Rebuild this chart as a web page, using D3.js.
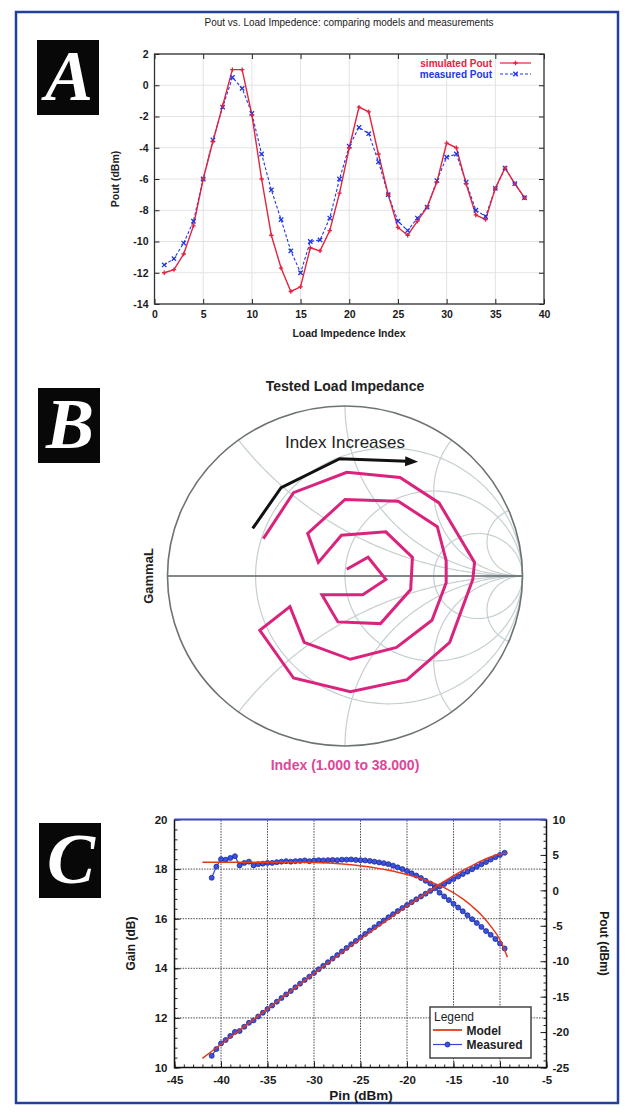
<!DOCTYPE html>
<html>
<head>
<meta charset="utf-8">
<title>Load impedance: models and measurements</title>
<script src="https://cdn.jsdelivr.net/npm/d3@7"></script>
<style>
    body { margin: 0; background: #fff; }
    svg { display: block; }
</style>
</head>
<body>
<div id="main"></div>
<script>
"use strict";

const FONT = "'Liberation Sans', Arial, Helvetica, sans-serif";
const SERIF = "'Liberation Serif', 'Times New Roman', serif";

// ---- panel A: Pout vs load impedance index
const loadIndex = [1, 2, 3, 4, 5, 6, 7, 8, 9, 10, 11, 12, 13, 14, 15, 16, 17, 18, 19,
    20, 21, 22, 23, 24, 25, 26, 27, 28, 29, 30, 31, 32, 33, 34, 35, 36, 37, 38];
const simulatedPout = [-12.0, -11.8, -10.8, -9.0, -6.0, -3.6, -1.3, 1.0, 1.0, -1.9,
    -6.0, -9.6, -11.7, -13.2, -12.9, -10.4, -10.6, -9.3, -6.9, -4.0,
    -1.4, -1.7, -4.4, -7.0, -9.1, -9.6, -8.7, -7.8, -6.2, -3.7,
    -4.0, -6.3, -8.3, -8.6, -6.6, -5.3, -6.3, -7.2];
const measuredPout = [-11.5, -11.1, -10.1, -8.7, -6.0, -3.5, -1.4, 0.5, -0.2, -1.8,
    -4.4, -6.7, -8.6, -10.6, -12.0, -10.0, -9.9, -8.5, -6.0, -3.9,
    -2.7, -3.1, -4.9, -7.0, -8.7, -9.3, -8.5, -7.8, -6.1, -4.6,
    -4.4, -6.2, -8.0, -8.4, -6.6, -5.3, -6.3, -7.2];
const indexTicks = [0, 5, 10, 15, 20, 25, 30, 35, 40];
const poutTicksA = [-14, -12, -10, -8, -6, -4, -2, 0, 2];

// ---- panel B: tested load impedances on the Smith chart (reflection coefficient)
const gammaRe = [-0.46, -0.29, 0.01, 0.31, 0.53, 0.73, 0.72, 0.59, 0.35, 0.03,
    -0.29, -0.48, -0.31, -0.23, 0.03, 0.29, 0.49, 0.57, 0.57, 0.52,
    0.30, 0.00, -0.21, -0.15, -0.02, 0.23, 0.38, 0.37, 0.20, -0.04,
    -0.13, 0.10, 0.23, 0.13, 0.01];
const gammaIm = [0.22, 0.49, 0.61, 0.58, 0.43, 0.08, -0.02, -0.39, -0.61, -0.68,
    -0.60, -0.32, -0.18, -0.39, -0.49, -0.42, -0.26, -0.04, 0.09, 0.29,
    0.44, 0.45, 0.25, 0.08, 0.24, 0.26, 0.11, -0.08, -0.28, -0.27,
    -0.11, -0.11, -0.02, 0.11, 0.04];
const resistanceCircles = [0.33, 1, 3];
const reactanceArcs = [0.5, 1, 2, 5];
const arrowRe = [-0.52, -0.36, -0.03, 0.35];
const arrowIm = [0.28, 0.52, 0.69, 0.675];

// ---- panel C: gain and Pout vs Pin
const pinModel = [-42, -40, -38, -36, -34, -32, -30, -28, -26, -24,
    -22, -20, -18, -16, -14, -13, -12, -11, -10, -9.2];
const gainModel = [18.28, 18.28, 18.28, 18.28, 18.28, 18.28, 18.27, 18.24, 18.18, 18.08,
    17.95, 17.78, 17.55, 17.25, 16.8, 16.5, 16.15, 15.7, 15.15, 14.45];
const poutModel = [-23.72, -21.72, -19.72, -17.72, -15.72, -13.72, -11.73, -9.76, -7.82, -5.92,
    -4.05, -2.22, -0.45, 1.25, 2.8, 3.5, 4.15, 4.7, 5.15, 5.25];
const pinMeasured = [-41, -40.5, -40, -39.5, -39, -38.5, -38, -37.5, -37, -36.5,
    -36, -35.5, -35, -34.5, -34, -33.5, -33, -32.5, -32, -31.5,
    -31, -30.5, -30, -29.5, -29, -28.5, -28, -27.5, -27, -26.5,
    -26, -25.5, -25, -24.5, -24, -23.5, -23, -22.5, -22, -21.5,
    -21, -20.5, -20, -19.5, -19, -18.5, -18, -17.5, -17, -16.5,
    -16, -15.5, -15, -14.5, -14, -13.5, -13, -12.5, -12, -11.5,
    -11, -10.5, -10, -9.5];
const gainMeasured = [17.65, 18.10, 18.40, 18.38, 18.45, 18.52, 18.15, 18.25, 18.30, 18.15,
    18.20, 18.22, 18.25, 18.25, 18.28, 18.30, 18.32, 18.30, 18.32, 18.33,
    18.35, 18.32, 18.35, 18.36, 18.35, 18.36, 18.37, 18.36, 18.38, 18.38,
    18.39, 18.37, 18.36, 18.35, 18.33, 18.30, 18.27, 18.24, 18.20, 18.14,
    18.07, 18.00, 17.92, 17.83, 17.74, 17.64, 17.53, 17.42, 17.28, 17.05,
    16.90, 16.75, 16.60, 16.45, 16.30, 16.14, 15.98, 15.83, 15.67, 15.50,
    15.35, 15.18, 15.00, 14.80];
const poutMeasured = [-23.35, -22.40, -21.60, -21.12, -20.55, -19.98, -19.85, -19.25, -18.70, -18.35,
    -17.80, -17.28, -16.75, -16.25, -15.72, -15.20, -14.68, -14.20, -13.68, -13.17,
    -12.65, -12.18, -11.65, -11.14, -10.65, -10.14, -9.63, -9.14, -8.62, -8.12,
    -7.61, -7.13, -6.64, -6.15, -5.67, -5.20, -4.73, -4.26, -3.80, -3.36,
    -2.93, -2.50, -2.08, -1.67, -1.26, -0.86, -0.47, -0.08, 0.28, 0.55,
    0.90, 1.25, 1.60, 1.95, 2.30, 2.64, 2.98, 3.33, 3.67, 4.00,
    4.35, 4.68, 5.00, 5.30];
const pinTicks = [-45, -40, -35, -30, -25, -20, -15, -10, -5];
const gainTicks = [10, 12, 14, 16, 18, 20];
const poutTicksC = [-25, -20, -15, -10, -5, 0, 5, 10];

const plain = d => String(d); // keep ascii hyphen minus for negative ticks

function styleAxis(sel, size, tickColor) {
    sel.attr("font-family", FONT).attr("font-size", size).attr("font-weight", "bold");
    sel.select(".domain").remove();
    sel.selectAll(".tick line").attr("stroke", tickColor || "#222");
    sel.selectAll(".tick text").attr("fill", "#1a1a1a");
}

function panelLabel(svg, letter, left, top) {
    svg.append("rect")
        .attr("x", left).attr("y", top).attr("width", 62).attr("height", 75)
        .attr("fill", "#080808");
    svg.append("text")
        .attr("x", left + 32).attr("y", top + 60)
        .attr("text-anchor", "middle")
        .attr("font-family", SERIF).attr("font-style", "italic").attr("font-weight", "bold")
        .attr("font-size", 72).attr("fill", "#fff")
        .text(letter);
}

function drawPanelA(svg) {
    const x = d3.scaleLinear().domain([0, 40]).range([154.5, 544]);
    const y = d3.scaleLinear().domain([-14, 2]).range([304, 54]);
    const g = svg.append("g");
    const red = "#e3233f", blue = "#2136e6";

    // grid
    g.append("g").selectAll("line").data(indexTicks).join("line")
        .attr("x1", d => x(d)).attr("x2", d => x(d)).attr("y1", y(-14)).attr("y2", y(2))
        .attr("stroke", "#e3e3e3");
    g.append("g").selectAll("line").data(poutTicksA).join("line")
        .attr("x1", x(0)).attr("x2", x(40)).attr("y1", d => y(d)).attr("y2", d => y(d))
        .attr("stroke", "#e3e3e3");

    // gnuplot style: inward ticks mirrored on all sides
    g.append("g").attr("transform", `translate(0,${y(-14)})`)
        .call(d3.axisBottom(x).tickValues(indexTicks).tickFormat(plain).tickSize(-5).tickSizeOuter(0).tickPadding(7))
        .call(styleAxis, 10.5);
    g.append("g").attr("transform", `translate(0,${y(2)})`)
        .call(d3.axisTop(x).tickValues(indexTicks).tickFormat("").tickSize(-5).tickSizeOuter(0))
        .call(styleAxis, 10.5);
    g.append("g").attr("transform", `translate(${x(0)},0)`)
        .call(d3.axisLeft(y).tickValues(poutTicksA).tickFormat(plain).tickSize(-5).tickSizeOuter(0).tickPadding(6))
        .call(styleAxis, 10.5);
    g.append("g").attr("transform", `translate(${x(40)},0)`)
        .call(d3.axisRight(y).tickValues(poutTicksA).tickFormat("").tickSize(-5).tickSizeOuter(0))
        .call(styleAxis, 10.5);

    g.append("rect")
        .attr("x", x(0)).attr("y", y(2)).attr("width", x(40) - x(0)).attr("height", y(-14) - y(2))
        .attr("fill", "none").attr("stroke", "#333").attr("stroke-width", 1.3);

    const line = d3.line().x(d => x(d[0])).y(d => y(d[1]));
    const sim = loadIndex.map((d, i) => [d, simulatedPout[i]]);
    const meas = loadIndex.map((d, i) => [d, measuredPout[i]]);

    g.append("path").attr("d", line(meas))
        .attr("fill", "none").attr("stroke", blue).attr("stroke-width", 1.1).attr("stroke-dasharray", "3,2");
    g.append("path").attr("d", line(sim))
        .attr("fill", "none").attr("stroke", red).attr("stroke-width", 1.4);

    g.append("g").selectAll("path").data(meas).join("path")
        .attr("d", d => `M${x(d[0]) - 2.2},${y(d[1]) - 2.2}l4.4,4.4M${x(d[0]) - 2.2},${y(d[1]) + 2.2}l4.4,-4.4`)
        .attr("stroke", blue).attr("stroke-width", 1.3);
    g.append("g").selectAll("path").data(sim).join("path")
        .attr("d", d => `M${x(d[0]) - 2.2},${y(d[1])}h4.4M${x(d[0])},${y(d[1]) - 2.2}v4.4`)
        .attr("stroke", red).attr("stroke-width", 1.3);

    // titles
    g.append("text").attr("x", 349).attr("y", 26).attr("text-anchor", "middle")
        .attr("font-family", FONT).attr("font-size", 10).attr("fill", "#222")
        .text("Pout vs. Load Impedence: comparing models and measurements");
    g.append("text").attr("x", 349).attr("y", 337).attr("text-anchor", "middle")
        .attr("font-family", FONT).attr("font-size", 10.5).attr("font-weight", "bold").attr("fill", "#222")
        .text("Load Impedence Index");
    g.append("text").attr("transform", "translate(119,179) rotate(-90)").attr("text-anchor", "middle")
        .attr("font-family", FONT).attr("font-size", 10.5).attr("font-weight", "bold").attr("fill", "#222")
        .text("Pout (dBm)");

    // legend
    const legend = [
        { label: "simulated Pout", color: red, dash: null, y: 63 },
        { label: "measured Pout", color: blue, dash: "3,2", y: 74 }
    ];
    const lg = g.append("g").selectAll("g").data(legend).join("g");
    lg.append("text").attr("x", 492).attr("y", d => d.y + 3.7).attr("text-anchor", "end")
        .attr("font-family", FONT).attr("font-size", 10).attr("font-weight", "bold")
        .attr("fill", d => d.color).text(d => d.label);
    lg.append("line").attr("x1", 500).attr("x2", 531).attr("y1", d => d.y).attr("y2", d => d.y)
        .attr("stroke", d => d.color).attr("stroke-width", 1.2).attr("stroke-dasharray", d => d.dash);
    lg.append("path")
        .attr("d", (d, i) => i === 0
            ? `M513.3,${d.y}h4.4M515.5,${d.y - 2.2}v4.4`
            : `M513.3,${d.y - 2.2}l4.4,4.4M513.3,${d.y + 2.2}l4.4,-4.4`)
        .attr("stroke", d => d.color).attr("stroke-width", 1.3);
}

function gammaOf(r, xv) {
    const den = (r + 1) * (r + 1) + xv * xv;
    return [(r * r + xv * xv - 1) / den, 2 * xv / den];
}

function drawPanelB(svg) {
    const sx = d3.scaleLinear().domain([-1, 1]).range([167.5, 522.5]);
    const sy = d3.scaleLinear().domain([-1, 1]).range([746, 406]);
    const line = d3.line().x(d => sx(d[0])).y(d => sy(d[1]));
    const g = svg.append("g");
    const gridColor = "#c5cfd1";

    // constant resistance circles
    const su = d3.range(-Math.PI / 2 + 0.002, Math.PI / 2, 0.01);
    g.append("g").selectAll("path").data(resistanceCircles).join("path")
        .attr("d", r => line([[1, 0]].concat(su.map(u => gammaOf(r, Math.tan(u))), [[1, 0]])))
        .attr("fill", "none").attr("stroke", gridColor).attr("stroke-width", 1.2);

    // constant reactance arcs, both signs
    const ru = d3.range(0, Math.PI / 2, 0.01);
    const arcs = reactanceArcs.concat(reactanceArcs.map(v => -v));
    g.append("g").selectAll("path").data(arcs).join("path")
        .attr("d", v => line(ru.map(u => gammaOf(Math.tan(u), v)).concat([[1, 0]])))
        .attr("fill", "none").attr("stroke", gridColor).attr("stroke-width", 1.2);

    g.append("line")
        .attr("x1", sx(-1)).attr("x2", sx(1)).attr("y1", sy(0)).attr("y2", sy(0))
        .attr("stroke", "#5a6264").attr("stroke-width", 1.6);
    g.append("ellipse")
        .attr("cx", sx(0)).attr("cy", sy(0)).attr("rx", sx(1) - sx(0)).attr("ry", sy(0) - sy(1))
        .attr("fill", "none").attr("stroke", "#6d7374").attr("stroke-width", 1.6);

    // index increases arrow
    svg.append("defs").append("marker")
        .attr("id", "arrowHead").attr("markerUnits", "userSpaceOnUse")
        .attr("markerWidth", 14).attr("markerHeight", 12)
        .attr("refX", 2).attr("refY", 6).attr("orient", "auto")
        .append("path").attr("d", "M0,1 L13,6 L0,11 Z").attr("fill", "#111");
    g.append("path")
        .attr("d", line(arrowRe.map((d, i) => [d, arrowIm[i]])))
        .attr("fill", "none").attr("stroke", "#111").attr("stroke-width", 3)
        .attr("marker-end", "url(#arrowHead)");
    g.append("text").attr("x", sx(0)).attr("y", 448).attr("text-anchor", "middle")
        .attr("font-family", FONT).attr("font-size", 17).attr("fill", "#222")
        .text("Index Increases");

    // swept load impedances
    g.append("path")
        .attr("d", line(gammaRe.map((d, i) => [d, gammaIm[i]])))
        .attr("fill", "none").attr("stroke", "#d9237c").attr("stroke-width", 3)
        .attr("stroke-linejoin", "miter");

    g.append("text").attr("x", sx(0)).attr("y", 391).attr("text-anchor", "middle")
        .attr("font-family", FONT).attr("font-size", 14).attr("font-weight", "bold").attr("fill", "#222")
        .text("Tested Load Impedance");
    g.append("text").attr("transform", `translate(153,${sy(0)}) rotate(-90)`).attr("text-anchor", "middle")
        .attr("font-family", FONT).attr("font-size", 13).attr("font-weight", "bold").attr("fill", "#222")
        .text("GammaL");
    g.append("text").attr("x", sx(0)).attr("y", 770).attr("text-anchor", "middle")
        .attr("font-family", FONT).attr("font-size", 14).attr("font-weight", "bold").attr("fill", "#db4799")
        .text("Index (1.000 to 38.000)");
}

function drawPanelC(svg) {
    const x = d3.scaleLinear().domain([-45, -5]).range([174.5, 546.5]);
    const yGain = d3.scaleLinear().domain([10, 20]).range([1067.5, 819.5]);
    const yPout = d3.scaleLinear().domain([-25, 10]).range([1067.5, 819.5]);
    const g = svg.append("g");
    const red = "#e5391c", blue = "#3347d6";

    // dotted grid
    g.append("g").selectAll("line").data(pinTicks.slice(1, -1)).join("line")
        .attr("x1", d => x(d)).attr("x2", d => x(d)).attr("y1", yGain(10)).attr("y2", yGain(20))
        .attr("stroke", "#4a4a4a").attr("stroke-dasharray", "1.5,1.2");
    g.append("g").selectAll("line").data(gainTicks.slice(1, -1)).join("line")
        .attr("x1", x(-45)).attr("x2", x(-5)).attr("y1", d => yGain(d)).attr("y2", d => yGain(d))
        .attr("stroke", "#4a4a4a").attr("stroke-dasharray", "1.5,1.2");

    const minorPin = d3.range(-45, -4.5, 1);
    const minorGain = d3.range(10, 20.01, 0.4);
    const minorPout = d3.range(-25, 10.5, 1);

    g.append("g").attr("transform", `translate(0,${yGain(10)})`)
        .call(d3.axisBottom(x).tickValues(minorPin).tickFormat("").tickSize(-3).tickSizeOuter(0))
        .call(styleAxis, 11);
    g.append("g").attr("transform", `translate(0,${yGain(10)})`)
        .call(d3.axisBottom(x).tickValues(pinTicks).tickFormat(plain).tickSize(-6).tickSizeOuter(0).tickPadding(8))
        .call(styleAxis, 11.5);
    g.append("g").attr("transform", `translate(${x(-45)},0)`)
        .call(d3.axisLeft(yGain).tickValues(minorGain).tickFormat("").tickSize(-3).tickSizeOuter(0))
        .call(styleAxis, 11);
    g.append("g").attr("transform", `translate(${x(-45)},0)`)
        .call(d3.axisLeft(yGain).tickValues(gainTicks).tickFormat(plain).tickSize(-6).tickSizeOuter(0).tickPadding(7))
        .call(styleAxis, 11.5);
    g.append("g").attr("transform", `translate(${x(-5)},0)`)
        .call(d3.axisRight(yPout).tickValues(minorPout).tickFormat("").tickSize(-3).tickSizeOuter(0))
        .call(styleAxis, 11);
    g.append("g").attr("transform", `translate(${x(-5)},0)`)
        .call(d3.axisRight(yPout).tickValues(poutTicksC).tickFormat(plain).tickSize(-6).tickSizeOuter(0).tickPadding(6))
        .call(styleAxis, 11.5);

    // frame: black axes, blue top edge
    g.append("path")
        .attr("d", `M${x(-45)},${yGain(20)}V${yGain(10)}H${x(-5)}V${yGain(20)}`)
        .attr("fill", "none").attr("stroke", "#111").attr("stroke-width", 1.5);
    g.append("line")
        .attr("x1", x(-45)).attr("x2", x(-5)).attr("y1", yGain(20)).attr("y2", yGain(20))
        .attr("stroke", "#3a46c4").attr("stroke-width", 1.8);

    const line = d3.line().x(d => x(d[0])).y(d => d[1]);
    const gainM = pinModel.map((p, i) => [p, yGain(gainModel[i])]);
    const poutM = pinModel.map((p, i) => [p, yPout(poutModel[i])]);
    const gainMeas = pinMeasured.map((p, i) => [p, yGain(gainMeasured[i])]);
    const poutMeas = pinMeasured.map((p, i) => [p, yPout(poutMeasured[i])]);
    const smooth = d3.line().x(d => x(d[0])).y(d => d[1]).curve(d3.curveMonotoneX);

    [gainMeas, poutMeas].forEach(series => {
        g.append("path").attr("d", line(series))
            .attr("fill", "none").attr("stroke", blue).attr("stroke-width", 1.2);
        g.append("g").selectAll("circle").data(series).join("circle")
            .attr("cx", d => x(d[0])).attr("cy", d => d[1]).attr("r", 2.5)
            .attr("fill", "#3b52dc").attr("stroke", "#1d2a9a").attr("stroke-width", 0.8);
    });
    [gainM, poutM].forEach(series => {
        g.append("path").attr("d", smooth(series))
            .attr("fill", "none").attr("stroke", red).attr("stroke-width", 1.5);
    });

    // legend box
    const lg = g.append("g");
    lg.append("rect").attr("x", 430).attr("y", 1007).attr("width", 101).attr("height", 51)
        .attr("fill", "#fff").attr("stroke", "#444").attr("stroke-width", 1.5);
    lg.append("text").attr("x", 434).attr("y", 1021)
        .attr("font-family", FONT).attr("font-size", 12).attr("fill", "#222").text("Legend");
    lg.append("line").attr("x1", 433).attr("x2", 462).attr("y1", 1030).attr("y2", 1030)
        .attr("stroke", red).attr("stroke-width", 1.8);
    lg.append("line").attr("x1", 433).attr("x2", 462).attr("y1", 1044.5).attr("y2", 1044.5)
        .attr("stroke", blue).attr("stroke-width", 1.2);
    lg.append("circle").attr("cx", 447.5).attr("cy", 1044.5).attr("r", 2.5)
        .attr("fill", "#3b52dc").attr("stroke", "#1d2a9a").attr("stroke-width", 0.8);
    lg.append("text").attr("x", 466.5).attr("y", 1034.5)
        .attr("font-family", FONT).attr("font-size", 12).attr("font-weight", "bold").attr("fill", "#222").text("Model");
    lg.append("text").attr("x", 466.5).attr("y", 1049)
        .attr("font-family", FONT).attr("font-size", 12).attr("font-weight", "bold").attr("fill", "#222").text("Measured");

    // axis titles
    g.append("text").attr("transform", `translate(135,${yGain(15)}) rotate(-90)`).attr("text-anchor", "middle")
        .attr("font-family", FONT).attr("font-size", 12).attr("font-weight", "bold").attr("fill", "#1a1a1a")
        .text("Gain (dB)");
    g.append("text").attr("transform", `translate(600,${yGain(15)}) rotate(90)`).attr("text-anchor", "middle")
        .attr("font-family", FONT).attr("font-size", 12).attr("font-weight", "bold").attr("fill", "#1a1a1a")
        .text("Pout (dBm)");
    g.append("text").attr("x", 361).attr("y", 1100).attr("text-anchor", "middle")
        .attr("font-family", FONT).attr("font-size", 13.5).attr("font-weight", "bold").attr("fill", "#1a1a1a")
        .text("Pin (dBm)");
}

function main() {
    const svg = d3.select("#main").append("svg")
        .attr("width", 631).attr("height", 1114);
    svg.append("rect").attr("width", 631).attr("height", 1114).attr("fill", "#fff");

    // outer blue frame round the whole figure
    svg.append("rect")
        .attr("x", 16).attr("y", 12).attr("width", 602).attr("height", 1091)
        .attr("fill", "none").attr("stroke", "#22409a").attr("stroke-width", 2.5);

    drawPanelA(svg);
    drawPanelB(svg);
    drawPanelC(svg);

    panelLabel(svg, "A", 37, 40);
    panelLabel(svg, "B", 38, 388);
    panelLabel(svg, "C", 39, 823);
}

main();
</script>
</body>
</html>
